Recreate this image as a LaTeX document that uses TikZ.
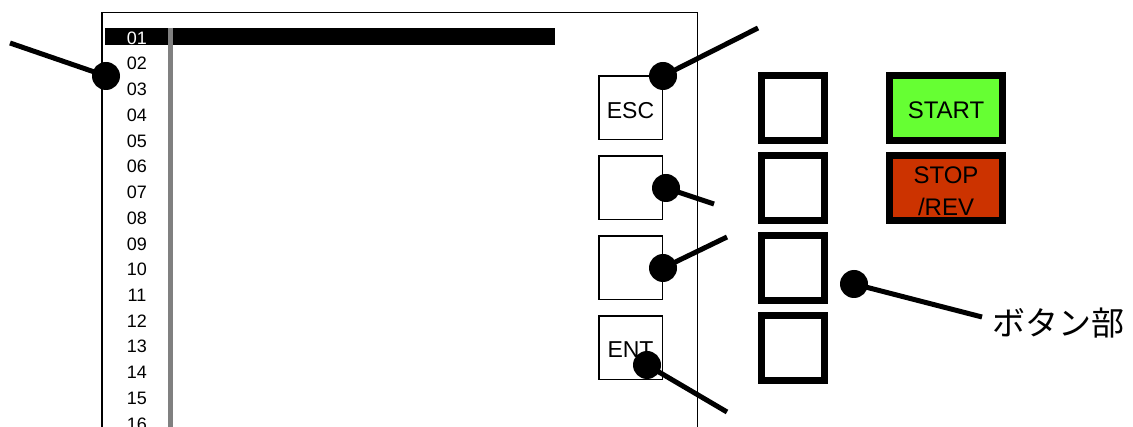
\documentclass[tikz,border=0pt]{standalone}
\usepackage{fontspec}
\setmainfont{Liberation Sans}
\newfontfamily\jpfont{Noto Sans CJK JP}
\definecolor{startgreen}{HTML}{66FF33}
\definecolor{stopred}{HTML}{CC3300}
\definecolor{scrollgray}{HTML}{808080}
\tikzset{
  panelframe/.style={line width=1.5pt},
  softkey/.style={draw, line width=1.5pt, minimum size=63.5pt, inner sep=0pt,
    font=\fontsize{23}{23}\selectfont},
  hwkey/.style={draw, line width=7pt, minimum width=63pt, minimum height=65pt, inner sep=0pt},
  runkey/.style={hwkey, minimum width=113pt},
  keytext/.style={font=\fontsize{24}{32}\selectfont, align=center, inner sep=0pt},
  pin/.style={circle, fill=black, minimum size=28pt, inner sep=0pt},
  leader/.style={line width=5pt},
  rowno/.style={font=\fontsize{18}{18}\selectfont, inner sep=0pt},
}
\begin{document}
\begin{tikzpicture}[x=1pt, y=-1pt]
\useasboundingbox (0,0) rectangle (1133,427);
\clip (0,0) rectangle (1133,427);

% display panel
\draw[panelframe] (102,12.5) rectangle (697.5,440);
\fill[black] (105,28) rectangle (555,45);
\draw[scrollgray, line width=5pt] (170,28) -- (170,440);

% line numbers
\node[rowno, text=white] (r1) at (137,38) {01};
\foreach \i [evaluate=\i as \yy using 38+25.73*(\i-1)] in {2,...,16} {
  \node[rowno] (r\i) at (137,\yy) {\ifnum\i<10 0\fi\i};
}

% soft keys on the panel
\node[softkey] (esc) at (630.5,108) {};
\node[softkey] (key2) at (630.5,188) {};
\node[softkey] (key3) at (630.5,268) {};
\node[softkey] (ent) at (630.5,348) {};
\node[keytext, font=\fontsize{23}{23}\selectfont] (esctext) at (630.5,110.5) {ESC};
\node[keytext, font=\fontsize{23}{23}\selectfont] (enttext) at (630.5,350) {ENT};

% hardware keys
\node[hwkey] (hw1) at (793,108) {};
\node[hwkey] (hw2) at (793,188.5) {};
\node[hwkey] (hw3) at (793,268.5) {};
\node[hwkey] (hw4) at (793,348.5) {};
\node[runkey, fill=startgreen] (start) at (946,108) {};
\node[runkey, fill=stopred] (stop) at (946,188) {};
\node[keytext] (starttext) at (946,110) {START};
\node[keytext] (stoptext) at (946,191.5) {STOP\\/REV};

% callout pins
\node[pin] (pinlist) at (106,76) {};
\node[pin] (pinesc) at (663,76) {};
\node[pin] (pinkey2) at (666,188) {};
\node[pin] (pinkey3) at (663,268) {};
\node[pin] (pinent) at (647,365) {};
\node[pin] (pinhw) at (854,284) {};

\coordinate (endlist) at (10,43);
\coordinate (endesc) at (758,28);
\coordinate (endkey2) at (714,204);
\coordinate (endkey3) at (727,237);
\coordinate (endent) at (727,412);
\coordinate (endhw) at (982,317);

\draw[leader] (pinlist.center) -- (endlist);
\draw[leader] (pinesc.center) -- (endesc);
\draw[leader] (pinkey2.center) -- (endkey2);
\draw[leader] (pinkey3.center) -- (endkey3);
\draw[leader] (pinent.center) -- (endent);
\draw[leader] (pinhw.center) -- (endhw);

\node[anchor=west, inner sep=0pt, font=\jpfont\fontsize{33}{33}\selectfont] (btnlabel) at (992,323) {ボタン部};
\end{tikzpicture}
\end{document}
